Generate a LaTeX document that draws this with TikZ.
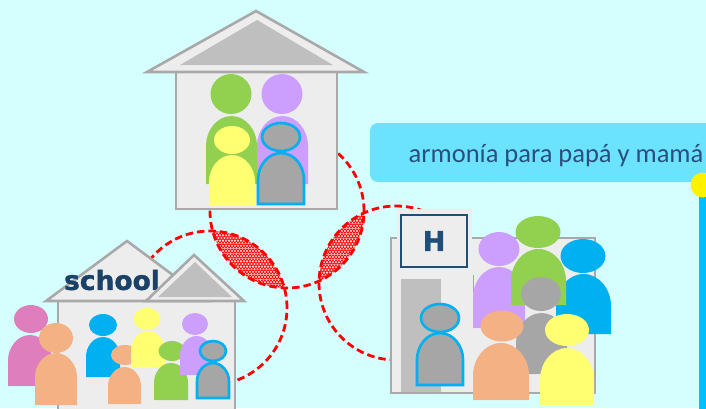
\documentclass[tikz,border=0pt]{standalone}
\usepackage{fontspec}
\setmainfont{Carlito}
\newfontfamily\boldsans{DejaVu Sans}[BoldFeatures={FakeBold=1.3}]
\definecolor{bgc}{HTML}{D5FFFF}
\definecolor{wallc}{HTML}{EDEDED}
\definecolor{edgec}{HTML}{A9A9A9}
\definecolor{innerc}{HTML}{BFBFBF}
\definecolor{navyc}{HTML}{1F4E79}
\definecolor{calloutc}{HTML}{6BE3FF}
\definecolor{textc}{HTML}{2B4F7C}
\definecolor{greenp}{HTML}{92D050}
\definecolor{purplep}{HTML}{CC9FFF}
\definecolor{yellowp}{HTML}{FFFF71}
\definecolor{grayp}{HTML}{A6A6A6}
\definecolor{bluep}{HTML}{00B0F0}
\definecolor{pinkp}{HTML}{DE7EBC}
\definecolor{orangep}{HTML}{F4B183}
\definecolor{barc}{HTML}{00BFFF}
\tikzset{
  wall/.style={draw=edgec,line width=2.6pt,fill=wallc,line join=miter},
  inner/.style={fill=innerc},
  ring/.style={draw=red,line width=2.8pt,dash pattern=on 7.5pt off 4pt},
  plain/.style={fill=#1},
  outlined/.style={fill=grayp,draw=bluep,line width=2.6pt}
}
% \person{style}{head cx}{head cy}{head rx}{head ry}{left}{right}{top}{bottom}
\newcommand{\person}[9]{%
  \path[#1] (#2,#3) ellipse [x radius=#4pt,y radius=#5pt];
  \pgfmathsetmacro{\pmid}{(#6+#7)/2}%
  \pgfmathsetmacro{\phw}{(#7-#6)/2}%
  \pgfmathsetmacro{\pshoulder}{#8+1.15*\phw}%
  \pgfmathsetmacro{\pca}{#8+0.5*1.15*\phw}%
  \pgfmathsetmacro{\pcl}{\pmid-0.58*\phw}%
  \pgfmathsetmacro{\pcr}{\pmid+0.58*\phw}%
  \path[#1] (#6,#9) -- (#6,\pshoulder) .. controls (#6,\pca) and (\pcl,#8) .. (\pmid,#8)
     .. controls (\pcr,#8) and (#7,\pca) .. (#7,\pshoulder) -- (#7,#9) -- cycle;
}
\begin{document}
\begin{tikzpicture}[x=1pt,y=-1pt]
\useasboundingbox (0,0) rectangle (706,408);
\clip (0,0) rectangle (706,408);
\fill[bgc] (0,0) rectangle (706,408);
\coordinate (ctop) at (287,211);
\coordinate (cleft) at (210,308);
\coordinate (cright) at (396,283);
% lenses
\begin{scope}
  \clip (ctop) circle [radius=77pt];
  \clip (cleft) circle [radius=77pt];
  \fill[red] (205,225) rectangle (295,295);
  \foreach \gx in {0,...,30}{\foreach \gy in {0,...,27}{%
    \draw[white,line width=.4pt] ({205+\gx*3+mod(\gy,2)*1.5},{225+\gy*2.6}) circle [radius=.9pt];
  }}
\end{scope}
\begin{scope}
  \clip (ctop) circle [radius=77pt];
  \clip (cright) circle [radius=77pt];
  \fill[red] (312,205) rectangle (370,290);
  \foreach \gx in {0,...,20}{\foreach \gy in {0,...,33}{%
    \draw[white,line width=.4pt] ({312+\gx*3+mod(\gy,2)*1.5},{205+\gy*2.6}) circle [radius=.9pt];
  }}
\end{scope}
\draw[ring] (ctop) circle [radius=77pt];
\draw[ring] (cleft) circle [radius=77pt];
\draw[ring] (cright) circle [radius=77pt];
% top house
\draw[wall] (176,72) rectangle (337,209);
\draw[wall] (256,11) -- (364,72) -- (147,72) -- cycle;
\fill[inner] (257,20) -- (333,65) -- (180,65) -- cycle;
\person{plain=greenp}{231}{94}{20.5}{20}{206}{257}{116}{184}
\person{plain=purplep}{282}{94}{20.5}{20}{257}{308}{116}{184}
\person{plain=yellowp}{232}{140}{18}{14}{209}{255}{155}{206}
\person{outlined}{281}{137}{19}{14}{258}{304}{153}{204}
% school
\draw[wall] (58,301) rectangle (235,420);
\draw[wall] (127,241) -- (208,301) -- (46,301) -- cycle;
\node[text=navyc!85!black,font=\boldsans\bfseries\fontsize{26.5}{26}\selectfont,inner sep=0pt] (schoolname) at (112,280) {school};
\draw[wall] (194,255) -- (244,301) -- (146,301) -- cycle;
\fill[inner] (195,262) -- (232,297) -- (158,297) -- cycle;
\person{plain=pinkp}{31}{319}{17}{14}{8}{52}{335}{386}
\person{plain=orangep}{56}{338}{17}{15}{35}{77}{353}{405}
\person{plain=bluep}{103}{325}{14}{11}{86}{120}{337}{377}
\person{plain=orangep}{125}{355}{14}{10}{108}{141}{367}{404}
\person{plain=yellowp}{147}{319}{13.5}{11}{131}{165}{331}{367}
\person{plain=greenp}{172}{351}{13.5}{10}{154}{188}{363}{400}
\person{plain=purplep}{195}{324}{13}{11}{180}{213}{336}{375}
\person{outlined}{213}{351}{13}{10}{197}{229}{363}{398}
% hospital
\draw[wall] (391,238) rectangle (595,393);
\fill[wallc] (397,209) rectangle (472,391);
\fill[inner] (401,279) rectangle (441,391.5);
\draw[navyc,line width=2.6pt,fill=wallc] (401,215) rectangle (467,267);
\node[text=navyc,font=\boldsans\bfseries\fontsize{27}{27}\selectfont,inner sep=0pt] (hname) at (434,241) {H};
\draw[red!45!wallc,line width=1pt] (473,275) -- (473,293);
\person{plain=purplep}{499}{249}{20.5}{17}{473}{525}{267}{328}
\person{plain=bluep}{583}{256}{22.5}{17}{556}{611}{274}{334}
\person{plain=greenp}{538}{232}{22.5}{16}{511}{566}{249}{305}
\person{plain=grayp}{541}{294}{20}{17}{516}{567}{313}{374}
\person{plain=orangep}{502}{326}{21.5}{15.5}{473}{529}{343}{400}
\person{plain=yellowp}{567}{330}{22}{16}{540}{594}{348}{405}
\person{outlined}{440}{318}{19}{14}{417}{463}{333}{385}
% callout
\fill[calloutc,rounded corners=8pt] (370,123) rectangle (730,182);
\node[text=textc,font=\fontsize{26.5}{27}\selectfont,inner sep=0pt,anchor=base west] (calloutname) at (408.5,162) {armonía para papá y mamá};
\fill[barc] (699,190) rectangle (710,410);
\fill[yellow] (703,185) circle [radius=12.5pt];
\end{tikzpicture}
\end{document}
